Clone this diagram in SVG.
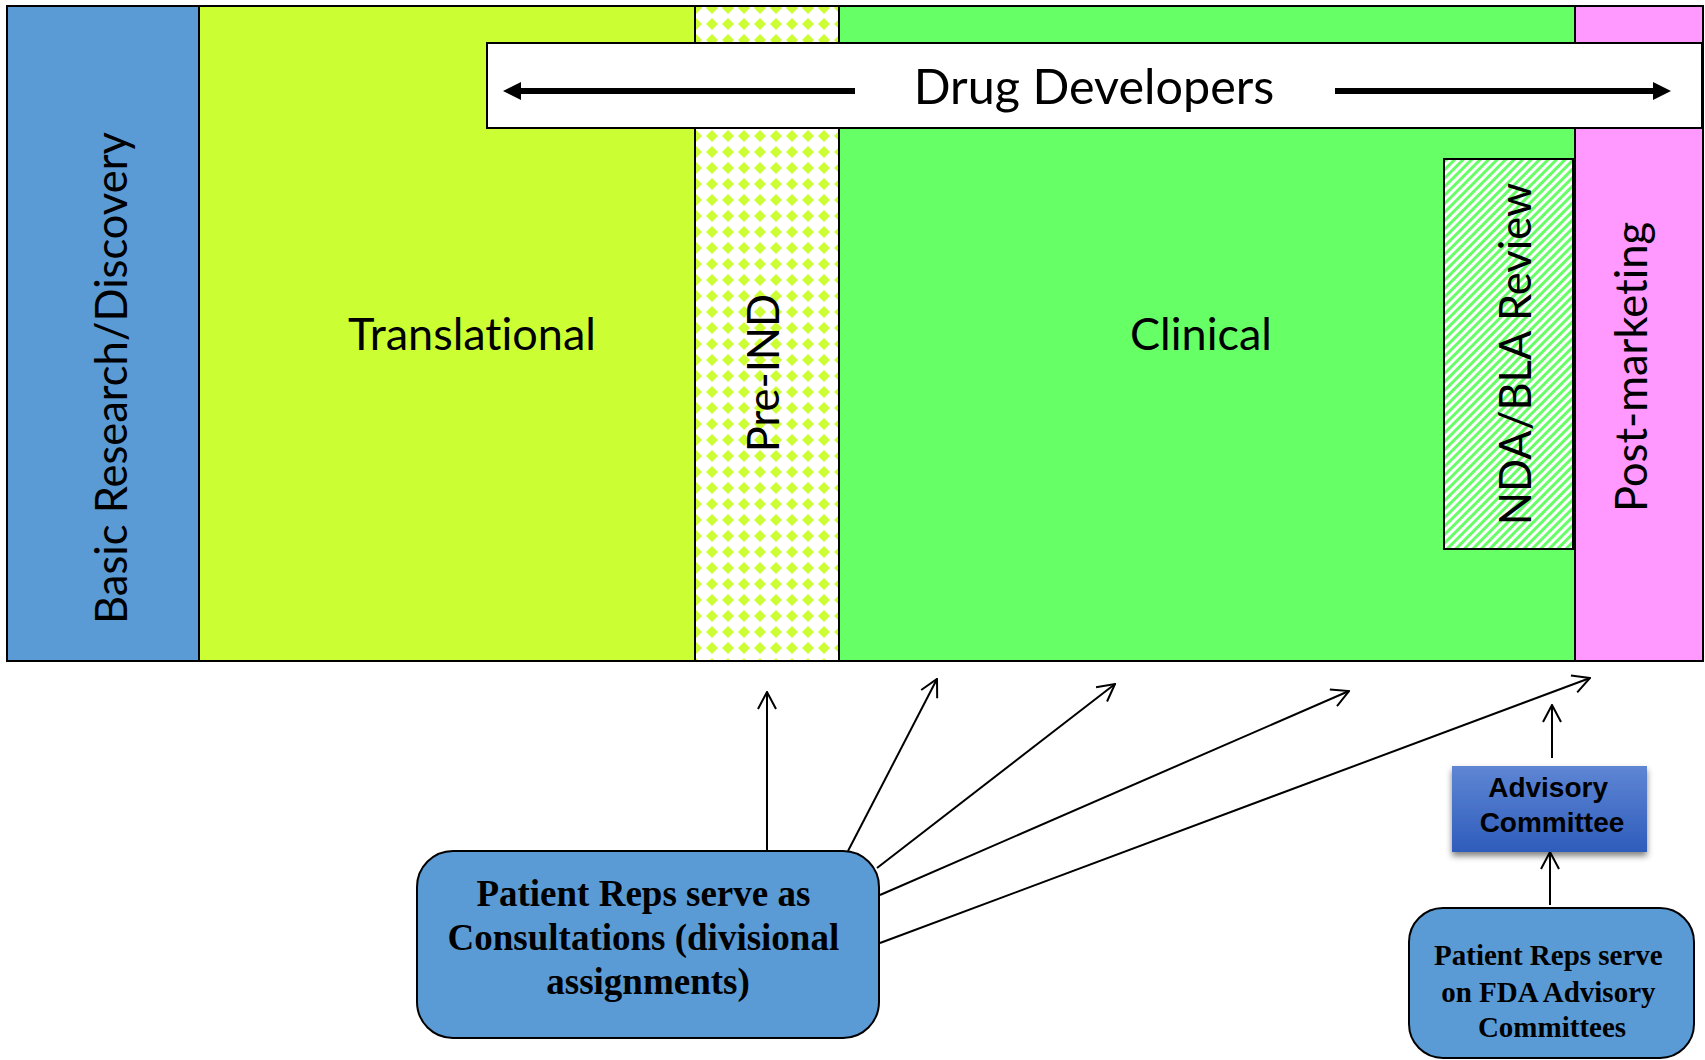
<svg xmlns="http://www.w3.org/2000/svg" width="1705" height="1060" viewBox="0 0 1705 1060">
  <style>
    .band { stroke: #000; stroke-width: 2; }
    .lbl { font-family: Lato, "Open Sans", sans-serif; font-size: 45px; fill: #000; text-anchor: middle; font-variant-ligatures: none; }
    .vl { font-size: 43.5px; }
    .conn { stroke: #000; stroke-width: 2; fill: none; marker-end: url(#open); }
    .tnr { font-family: "Liberation Serif", "Times New Roman", serif; font-weight: bold; fill: #000; text-anchor: middle; }
    .arial { font-family: "Liberation Sans", Arial, sans-serif; font-weight: bold; fill: #000; text-anchor: middle; }
  </style>
  <defs>
    <pattern id="diam" x="0" y="0" width="16" height="16" patternUnits="userSpaceOnUse">
      <rect width="16" height="16" fill="#fff"/>
      <polygon points="8,2 14,8 8,14 2,8" fill="#ccff33"/>
    </pattern>
    <pattern id="stripe" width="6" height="6" patternUnits="userSpaceOnUse" patternTransform="rotate(45)">
      <rect width="6" height="6" fill="#fff"/>
      <rect width="3" height="6" fill="#66ff66"/>
    </pattern>
    <marker id="open" viewBox="0 0 20 20" refX="19" refY="10" markerWidth="20" markerHeight="20" markerUnits="userSpaceOnUse" orient="auto">
      <path d="M2,1 L19,10 L2,19" fill="none" stroke="#000" stroke-width="2"/>
    </marker>
    <linearGradient id="advg" x1="0" y1="0" x2="0" y2="1">
      <stop offset="0" stop-color="#5f86d4"/>
      <stop offset="1" stop-color="#2e5cbb"/>
    </linearGradient>
    <filter id="shadow" x="-20%" y="-20%" width="140%" height="150%">
      <feDropShadow dx="0" dy="4" stdDeviation="3" flood-color="#000" flood-opacity="0.5"/>
    </filter>
  </defs>

  <g id="basic">
    <rect class="band" x="7" y="6" width="192" height="655" fill="#5b9bd5"/>
    <text class="lbl vl" transform="translate(127,378) rotate(-90)">Basic Research/Discovery</text>
  </g>
  <g id="translational">
    <rect class="band" x="199" y="6" width="496" height="655" fill="#ccff33"/>
    <text class="lbl" x="472" y="350">Translational</text>
  </g>
  <g id="preind">
    <rect class="band" x="695" y="6" width="144" height="655" fill="url(#diam)"/>
    <text class="lbl vl" transform="translate(779,373) rotate(-90)">Pre-IND</text>
  </g>
  <g id="clinical">
    <rect class="band" x="839" y="6" width="736" height="655" fill="#66ff66"/>
    <text class="lbl" x="1201" y="350">Clinical</text>
  </g>
  <g id="postmarketing">
    <rect class="band" x="1575" y="6" width="128" height="655" fill="#ff99ff"/>
    <text class="lbl vl" transform="translate(1647,367) rotate(-90)">Post-marketing</text>
  </g>
  <g id="nda">
    <rect x="1444" y="159" width="129" height="390" fill="url(#stripe)" stroke="#000" stroke-width="2"/>
    <text class="lbl vl" transform="translate(1531,354) rotate(-90)">NDA/BLA Review</text>
  </g>
  <g id="drugdevelopers">
    <rect x="487" y="43" width="1215" height="85" fill="#fff" stroke="#000" stroke-width="2"/>
    <line x1="855" y1="91" x2="518" y2="91" stroke="#000" stroke-width="6"/>
    <polygon points="503,91 521,82 521,100" fill="#000"/>
    <line x1="1335" y1="91" x2="1656" y2="91" stroke="#000" stroke-width="6"/>
    <polygon points="1671,91 1653,82 1653,100" fill="#000"/>
    <text class="lbl" x="1094" y="104" style="font-size:48.5px">Drug Developers</text>
  </g>

  <g id="connectors">
    <line class="conn" x1="767" y1="851" x2="767" y2="692"/>
    <line class="conn" x1="848" y1="851" x2="937" y2="679"/>
    <line class="conn" x1="877" y1="868" x2="1115" y2="684"/>
    <line class="conn" x1="880" y1="895" x2="1349" y2="691"/>
    <line class="conn" x1="880" y1="943" x2="1590" y2="678"/>
    <line class="conn" x1="1552" y1="758" x2="1552" y2="705"/>
    <line class="conn" x1="1550" y1="905" x2="1550" y2="852"/>
  </g>

  <g id="consultations">
    <rect x="417" y="851" width="462" height="187" rx="36" ry="36" fill="#5b9bd5" stroke="#000" stroke-width="2"/>
    <text class="tnr" style="font-size:37px">
      <tspan x="648" y="906">Patient Reps serve as</tspan>
      <tspan x="648" y="950">Consultations (divisional</tspan>
      <tspan x="648" y="994">assignments)</tspan>
    </text>
  </g>
  <g id="advisory">
    <rect x="1452" y="766" width="195" height="86" fill="url(#advg)" filter="url(#shadow)"/>
    <text class="arial" style="font-size:28px">
      <tspan x="1552" y="797">Advisory</tspan>
      <tspan x="1552" y="832">Committee</tspan>
    </text>
  </g>
  <g id="fdaadvisory">
    <rect x="1409" y="908" width="285" height="150" rx="34" ry="34" fill="#5b9bd5" stroke="#000" stroke-width="2"/>
    <text class="tnr" style="font-size:29px">
      <tspan x="1552" y="965">Patient Reps serve</tspan>
      <tspan x="1552" y="1002">on FDA Advisory</tspan>
      <tspan x="1552" y="1037">Committees</tspan>
    </text>
  </g>
</svg>
